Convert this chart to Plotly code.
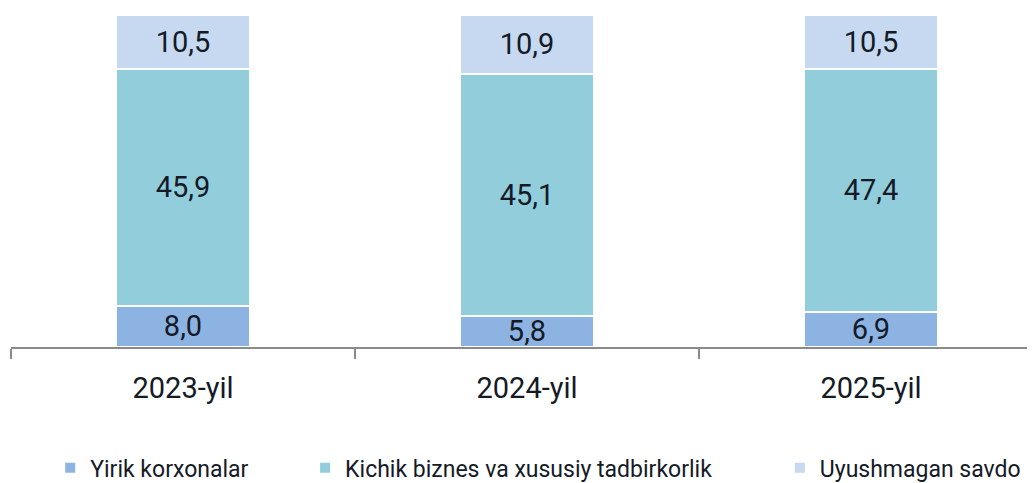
import plotly.graph_objects as go

years = ['2023-yil', '2024-yil', '2025-yil']
yirik = [8.0, 5.8, 6.9]
kichik = [45.9, 45.1, 47.4]
uyushmagan = [10.5, 10.9, 10.5]

series = [
    ('Yirik korxonalar', yirik, '#8DB3E2', 'legend', 0.038),
    ('Kichik biznes va xususiy tadbirkorlik', kichik, '#92CDDC', 'legend2', 0.285),
    ('Uyushmagan savdo', uyushmagan, '#C6D9F1', 'legend3', 0.745),
]

fig = go.Figure()
for name, vals, color, leg, _ in series:
    fig.add_trace(go.Bar(
        x=years, y=vals, name=name, legend=leg,
        text=vals, texttemplate='%{text:.1f}',
        textposition='inside', insidetextanchor='middle',
        textangle=0, constraintext='none',
        textfont=dict(size=29, color='#141a26'),
        marker=dict(color=color, line=dict(color='white', width=2)),
    ))

# one legend box per series so the entries can be spaced like the original
legends = {}
for name, vals, color, leg, lx in series:
    legends[leg] = dict(
        orientation='h', x=lx, xanchor='left', y=-0.364, yanchor='middle',
        font=dict(size=23, color='#141a26'), bgcolor='rgba(0,0,0,0)',
    )

# the page body adds an 8px offset, margins are set with that in mind
fig.update_layout(
    width=1035, height=483,
    barmode='stack', barnorm='percent',
    bargap=0.61,
    separators=', ',
    font=dict(family='Roboto, sans-serif', color='#141a26'),
    plot_bgcolor='white', paper_bgcolor='white',
    margin=dict(l=3, r=0, t=7, b=144, autoexpand=False),
    showlegend=True,
    **legends,
)
fig.update_xaxes(
    range=[-0.5, 2.5], automargin=False,
    showline=True, linecolor='#8a8a8a', linewidth=2,
    ticks='outside', tickson='boundaries', ticklen=10, tickcolor='#8a8a8a', tickwidth=2,
    ticklabelstandoff=14,
    tickfont=dict(size=29, color='#141a26'),
    showgrid=False,
)
fig.update_yaxes(range=[0, 100], visible=False, showgrid=False, automargin=False)

fig.write_html('out.html')
